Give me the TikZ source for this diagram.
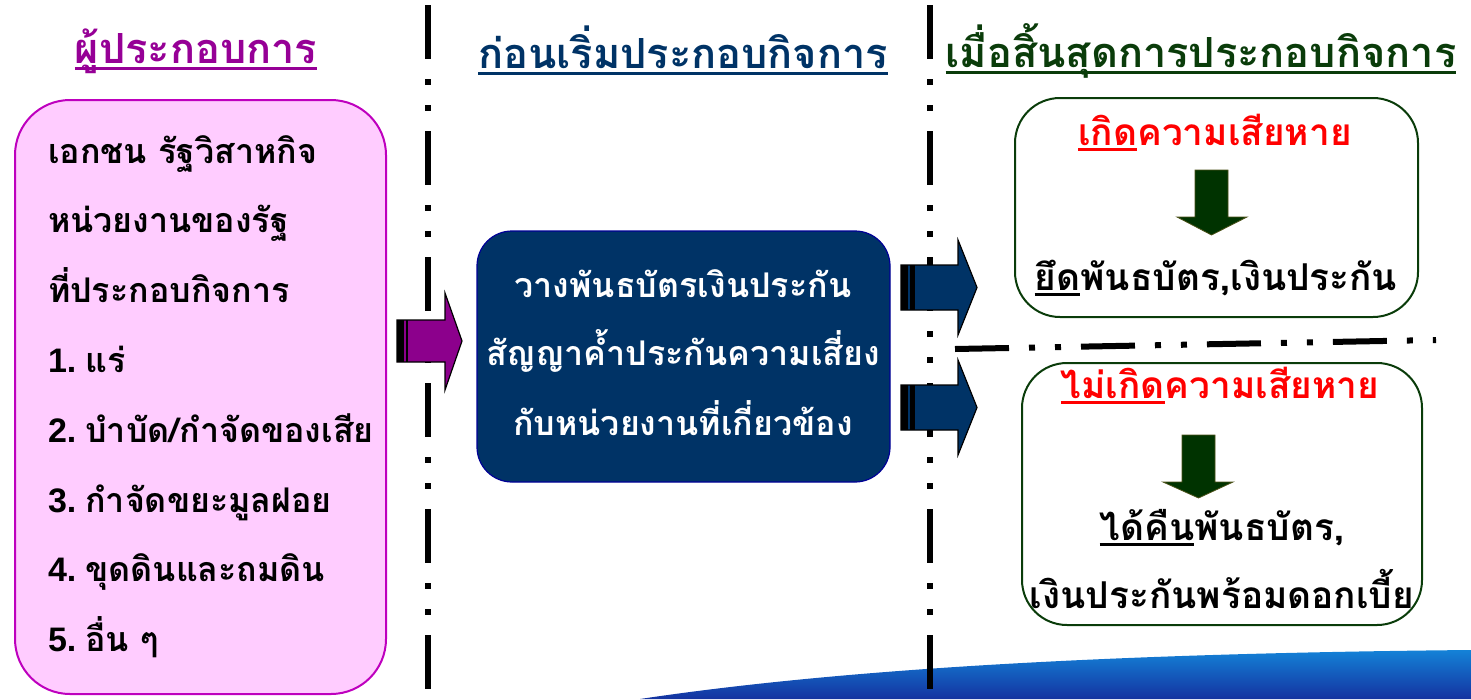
\documentclass[tikz,border=0pt]{standalone}
\usepackage{fontspec}
\newfontfamily\thaifont[Script=Thai]{Loma}
\newfontfamily\latinb{Liberation Sans}
\definecolor{hpurple}{RGB}{150,0,150}
\definecolor{bpurple}{RGB}{190,0,190}
\definecolor{bpink}{RGB}{255,204,255}
\definecolor{apurple}{RGB}{140,0,140}
\definecolor{navy}{RGB}{0,51,102}
\definecolor{navyedge}{RGB}{0,0,150}
\definecolor{dgreen}{RGB}{10,60,10}
\definecolor{agreen}{RGB}{0,51,0}
\definecolor{bred}{RGB}{255,0,0}
\newcommand\ulx[2][black]{\setbox0\hbox{#2}\rlap{\color{#1}\rule[-0.16em]{\wd0}{0.07em}}\box0}
\newcommand\num[1]{{\latinb\bfseries #1}\hspace{9pt}}
\begin{document}
\begin{tikzpicture}[x=1pt,y=-1pt,
  every node/.style={inner sep=0pt, outer sep=0pt},
  bodytext/.style={font=\thaifont\bfseries\fontsize{34}{40}\selectfont, anchor=base west},
  ctext/.style={font=\thaifont\bfseries\fontsize{34}{40}\selectfont, anchor=base},
  rtext/.style={font=\thaifont\bfseries\fontsize{37}{42}\selectfont, anchor=base},
  header/.style={font=\thaifont\bfseries\fontsize{41.5}{46}\selectfont, anchor=base},
  divider/.style={line width=6pt, dash pattern=on 54pt off 20pt on 6pt off 20pt on 6pt off 20pt},
  rbox/.style={draw=dgreen, line width=2pt, fill=white, rounded corners=45pt},
  downarrow/.style={fill=agreen, draw=agreen!60!brown, line width=0.8pt}
]
\useasboundingbox (0,0) rectangle (1471,699);
% bottom swoosh
\shade[top color={rgb,255:red,20;green,130;blue,215}, bottom color={rgb,255:red,20;green,50;blue,160}]
  (640,699) .. controls (860,666) and (1150,653) .. (1471,650) -- (1471,699) -- cycle;

% dividers
\draw[divider] (428,5) -- (428,699);
\draw[divider] (930,5) -- (930,699);
\draw[divider] (955,349) -- (1436,340);

% headers
\node[header, text=hpurple] (h1) at (196,63) {\ulx[hpurple]{ผู้ประกอบการ}};
\node[header, text=navy] (h2) at (683,68) {\ulx[navy]{ก่อนเริ่มประกอบกิจการ}};
\node[header, text=dgreen] (h3) at (1201,67) {\ulx[dgreen]{เมื่อสิ้นสุดการประกอบกิจการ}};

% left box
\node[draw=bpurple, line width=2pt, fill=bpink, rounded corners=55pt,
      minimum width=371pt, minimum height=594pt] (lb) at (200.5,397) {};
\node[bodytext] (l1) at (48,163) {เอกชน รัฐวิสาหกิจ};
\node[bodytext] (l2) at (48,232) {หน่วยงานของรัฐ};
\node[bodytext] (l3) at (48,302) {ที่ประกอบกิจการ};
\node[bodytext] (l4) at (48,372) {\num{1.}แร่};
\node[bodytext] (l5) at (48,442) {\num{2.}บำบัด/กำจัดของเสีย};
\node[bodytext] (l6) at (48,512) {\num{3.}กำจัดขยะมูลฝอย};
\node[bodytext] (l7) at (48,581) {\num{4.}ขุดดินและถมดิน};
\node[bodytext] (l8) at (48,651) {\num{5.}อื่น ๆ};

% purple block arrow
\draw[fill=apurple, line width=1.2pt, line join=miter]
  (397,320) -- (445,320) -- (445,293) -- (462,341) -- (445,390) -- (445,362) -- (397,362) -- cycle;
\fill[black] (397,320) rectangle (404,362);
\fill[black] (405.5,320) rectangle (408,362);

% center box
\node[draw=navyedge, line width=1.2pt, fill=navy, rounded corners=35pt,
      minimum width=413pt, minimum height=251pt] (cb) at (683.5,356.5) {};
\node[ctext, text=white] (c1) at (683,297) {วางพันธบัตรเงินประกัน};
\node[ctext, text=white] (c2) at (683,365) {สัญญาค้ำประกันความเสี่ยง};
\node[ctext, text=white] (c3) at (683,435) {กับหน่วยงานที่เกี่ยวข้อง};

% navy block arrows
\foreach \cy in {287.5,407.5}{
  \draw[fill=navy, line width=1.2pt, line join=miter]
    (901,\cy-22.5) -- (958,\cy-22.5) -- (958,\cy-47.5) -- (977,\cy) -- (958,\cy+47.5) -- (958,\cy+22.5) -- (901,\cy+22.5) -- cycle;
  \fill[black] (901,\cy-22.5) rectangle (908,\cy+22.5);
  \fill[black] (910,\cy-22.5) rectangle (915,\cy+22.5);
}

% upper right box
\node[rbox, minimum width=403pt, minimum height=219pt] (rb1) at (1216.5,207.5) {};
\node[rtext, text=bred] (r1) at (1215,145) {\ulx[bred]{เกิด}ความเสียหาย};
\draw[downarrow] (1195,170) -- (1228,170) -- (1228,217) -- (1247,217) -- (1211.5,235) -- (1177,217) -- (1195,217) -- cycle;
\node[rtext] (r2) at (1216,290) {\ulx{ยึด}พันธบัตร,เงินประกัน};

% lower right box
\node[rbox, minimum width=400pt, minimum height=262pt] (rb2) at (1222,494) {};
\node[rtext, text=bred] (r3) at (1220,398) {\ulx[bred]{ไม่เกิด}ความเสียหาย};
\draw[downarrow] (1182,435) -- (1215,435) -- (1215,482) -- (1233,482) -- (1198.5,498) -- (1163,482) -- (1182,482) -- cycle;
\node[rtext] (r4) at (1222,540) {\ulx{ได้คืน}พันธบัตร,};
\node[rtext] (r5) at (1222,608) {เงินประกันพร้อมดอกเบี้ย};
\end{tikzpicture}
\end{document}
